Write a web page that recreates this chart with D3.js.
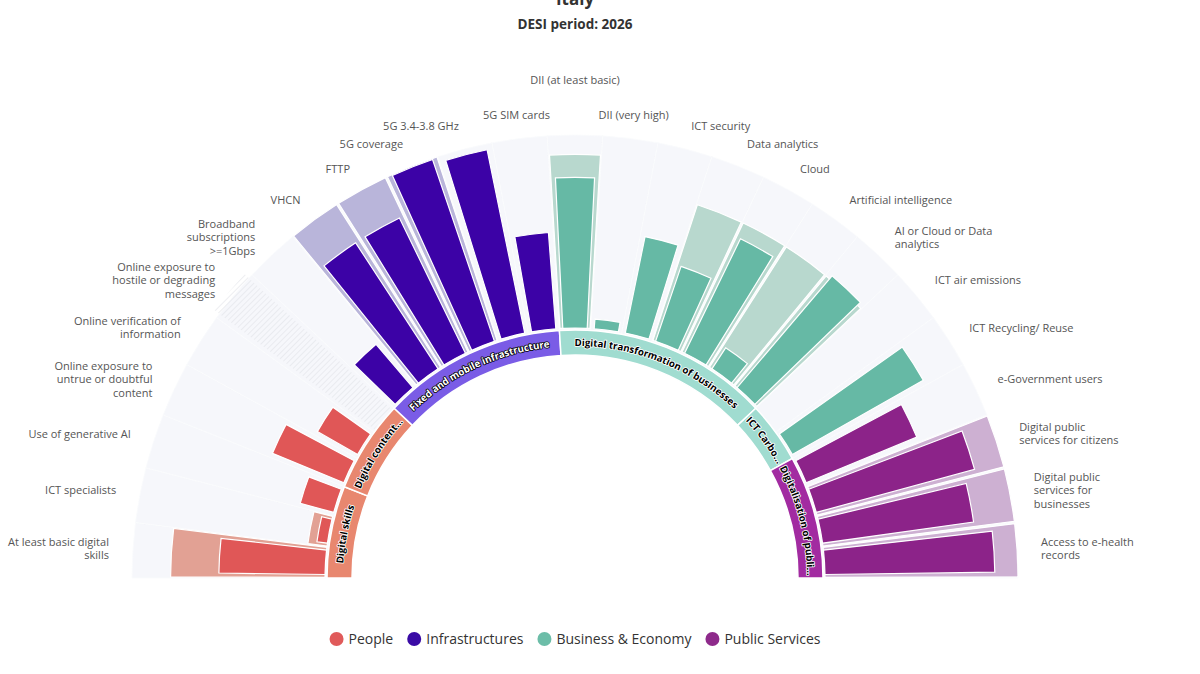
<!DOCTYPE html>
<html>
<head>
<meta charset="utf-8">
<script src="https://cdn.jsdelivr.net/npm/d3@7"></script>
<style>
  body { margin: 0; background: #fff; }
  svg { display: block; font-family: "Open Sans", "Noto Sans", sans-serif; }
</style>
</head>
<body>
<svg id="chart" width="1200" height="674"></svg>
<script>
// indicators, clockwise from the bottom left
const indicators = [
  "At least basic digital\nskills", "ICT specialists", "Use of generative AI",
  "Online exposure to\nuntrue or doubtful\ncontent", "Online verification of\ninformation",
  "Online exposure to\nhostile or degrading\nmessages",
  "Broadband\nsubscriptions\n>=1Gbps", "VHCN", "FTTP", "5G coverage", "5G 3.4-3.8 GHz", "5G SIM cards",
  "DII (at least basic)", "DII (very high)", "ICT security", "Data analytics", "Cloud",
  "Artificial intelligence", "AI or Cloud or Data\nanalytics",
  "ICT air emissions", "ICT Recycling/ Reuse",
  "e-Government users", "Digital public\nservices for citizens",
  "Digital public\nservices for\nbusinesses", "Access to e-health\nrecords"
];
const values = [55, 5.5, 18, 40, 24, null, 29.5, 78, 78, 99.5, 97, 50,
  78, 5, 51, 41, 66, 13, 76, null, 78, 62, 85, 79, 88];
const targets = [80, 10, null, null, null, null, null, 100, 100, 100, null, null,
  90, null, null, 74, 74, 74, 74, null, null, null, 100, 100, 100];
const notAvailable = ["Online exposure to\nhostile or degrading\nmessages"];

const dimensions = ["Digital skills", "Digital content...", "Fixed and mobile infrastructure",
  "Digital transformation of businesses", "ICT Carbo...", "Digitalisation of publi..."];
const dimensionSizes = [3, 3, 6, 7, 2, 4];
const dimensionPillars = ["People", "People", "Infrastructures", "Business & Economy",
  "Business & Economy", "Public Services"];
const pillars = ["People", "Infrastructures", "Business & Economy", "Public Services"];

const colors = {
  "People": { value: "#e05757", target: "#e2a194", ring: "#e8876f", dot: "#e05a5a", text: "#000" },
  "Infrastructures": { value: "#3c02a6", target: "#b9b5da", ring: "#7a5ce6", dot: "#3a0ba5", text: "#fff" },
  "Business & Economy": { value: "#66b9a5", target: "#b8d8ce", ring: "#a0dcd0", dot: "#6cbda8", text: "#000" },
  "Public Services": { value: "#8c2389", target: "#cdb0d2", ring: "#a22ba1", dot: "#8e2a8b", text: "#000" }
};

const cx = 575, cy = 578;
const ringInner = 223, ringOuter = 248, barBase = 250, outer = 443, labelR = 467;
const deg = Math.PI / 180;

// pillar of every indicator, from the dimension spans
const dimStart = d3.cumsum([0, ...dimensionSizes]);
const pillarOf = indicators.map((_, i) => dimensionPillars[d3.bisectRight(dimStart, i) - 1]);

const svg = d3.select("#chart");

const defs = svg.append("defs");
const hatch = defs.append("pattern")
  .attr("id", "hatch")
  .attr("patternUnits", "userSpaceOnUse")
  .attr("width", 4).attr("height", 4)
  .attr("patternTransform", "rotate(45)");
hatch.append("line")
  .attr("x1", 0).attr("y1", 0).attr("x2", 0).attr("y2", 4)
  .attr("stroke", "#e1e2e8").attr("stroke-width", 1.2);

// title
svg.append("text")
  .attr("x", cx).attr("y", 5)
  .attr("text-anchor", "middle")
  .attr("font-size", 17).attr("font-weight", 700).attr("fill", "#333")
  .text("Italy");
svg.append("text")
  .attr("x", cx).attr("y", 29)
  .attr("text-anchor", "middle")
  .attr("font-size", 13.5).attr("font-weight", 700).attr("fill", "#333")
  .text("DESI period: 2026");

const angle = d3.scaleBand()
  .domain(d3.range(indicators.length))
  .range([-Math.PI / 2, Math.PI / 2]);
const radius = d3.scaleLinear().domain([0, 100]).range([barBase, outer]);

const g = svg.append("g").attr("transform", `translate(${cx},${cy})`);

// background bands
const bandArc = d3.arc()
  .innerRadius(ringOuter)
  .outerRadius(outer)
  .startAngle((d) => angle(d))
  .endAngle((d) => angle(d) + angle.bandwidth());
g.append("g")
  .selectAll("path")
  .data(d3.range(indicators.length))
  .join("path")
  .attr("d", bandArc)
  .attr("fill", "#f6f7fb")
  .attr("stroke", "#fafbfd")
  .attr("stroke-width", 0.8);

// not available
g.append("g")
  .selectAll("path")
  .data(d3.range(indicators.length).filter((i) => notAvailable.includes(indicators[i])))
  .join("path")
  .attr("d", d3.arc()
    .innerRadius(barBase)
    .outerRadius(outer + 6)
    .startAngle((d) => angle(d) + 0.6 * deg)
    .endAngle((d) => angle(d) + angle.bandwidth() - 0.6 * deg))
  .attr("fill", "url(#hatch)");

// targets
const targetPad = 0.15 * deg;
g.append("g")
  .selectAll("path")
  .data(d3.range(indicators.length).filter((i) => targets[i] != null))
  .join("path")
  .attr("d", d3.arc()
    .innerRadius(barBase)
    .outerRadius((d) => radius(targets[d]))
    .startAngle((d) => angle(d) + targetPad)
    .endAngle((d) => angle(d) + angle.bandwidth() - targetPad))
  .attr("fill", (d) => colors[pillarOf[d]].target)
  .attr("stroke", "#fff")
  .attr("stroke-width", 1.2);

// values
const valuePad = 0.8 * deg;
g.append("g")
  .selectAll("path")
  .data(d3.range(indicators.length).filter((i) => values[i] != null))
  .join("path")
  .attr("d", d3.arc()
    .innerRadius(barBase)
    .outerRadius((d) => radius(values[d]))
    .startAngle((d) => angle(d) + valuePad)
    .endAngle((d) => angle(d) + angle.bandwidth() - valuePad))
  .attr("fill", (d) => colors[pillarOf[d]].value)
  .attr("stroke", "#fff")
  .attr("stroke-width", 1.2);

// dimension ring
const ringData = dimensions.map((name, k) => ({
  name,
  pillar: dimensionPillars[k],
  a0: angle(dimStart[k]),
  a1: angle(dimStart[k + 1] - 1) + angle.bandwidth()
}));
const ringArc = d3.arc()
  .innerRadius(ringInner)
  .outerRadius(ringOuter)
  .startAngle((d) => d.a0)
  .endAngle((d) => d.a1);
g.append("g")
  .selectAll("path")
  .data(ringData)
  .join("path")
  .attr("d", ringArc)
  .attr("fill", (d) => colors[d.pillar].ring)
  .attr("stroke", "#fff")
  .attr("stroke-width", 1.5);

const rm = (ringInner + ringOuter) / 2;
const pt = (a, r) => [r * Math.sin(a), -r * Math.cos(a)];
g.append("g")
  .selectAll("path")
  .data(ringData)
  .join("path")
  .attr("id", (d, k) => `ring-path-${k}`)
  .attr("fill", "none")
  .attr("d", (d) => {
    const [x0, y0] = pt(d.a0, rm);
    const [x1, y1] = pt(d.a1, rm);
    return `M${x0},${y0}A${rm},${rm} 0 0 1 ${x1},${y1}`;
  });
g.append("g")
  .selectAll("text")
  .data(ringData)
  .join("text")
  .attr("font-size", 9.8)
  .attr("font-weight", 700)
  .attr("dy", "0.35em")
  .attr("fill", (d) => colors[d.pillar].text)
  .attr("stroke", (d) => (colors[d.pillar].text === "#fff" ? "#000" : "#fff"))
  .attr("stroke-width", 1.6)
  .attr("paint-order", "stroke")
  .attr("stroke-linejoin", "round")
  .append("textPath")
  .attr("href", (d, k) => `#ring-path-${k}`)
  .attr("startOffset", "50%")
  .attr("text-anchor", "middle")
  .text((d) => d.name);

// indicator labels
const lineHeight = 13.5;
const labels = g.append("g")
  .selectAll("text")
  .data(indicators.map((name, i) => ({ name, a: angle(i) + angle.bandwidth() / 2 })))
  .join("text")
  .attr("font-size", 11)
  .attr("fill", "#555")
  .attr("text-anchor", (d) => (Math.abs(d.a) < 9 * deg ? "middle" : d.a < 0 ? "end" : "start"))
  .attr("transform", (d) => {
    const r = Math.abs(d.a) < 1e-6 ? labelR + 31 : labelR;
    const [x, y] = pt(d.a, r);
    return `translate(${x},${y})`;
  });
labels.each(function (d) {
  const lines = d.name.split("\n");
  d3.select(this)
    .selectAll("tspan")
    .data(lines)
    .join("tspan")
    .attr("x", 0)
    .attr("y", (l, j) => (j - (lines.length - 1) / 2) * lineHeight)
    .attr("dy", "0.35em")
    .text((l) => l);
});

// legend
const legend = svg.append("g");
let lx = 0;
pillars.forEach((p) => {
  const item = legend.append("g").attr("transform", `translate(${lx},0)`);
  item.append("circle").attr("cx", 7).attr("cy", 0).attr("r", 7).attr("fill", colors[p].dot);
  const t = item.append("text")
    .attr("x", 19).attr("dy", "0.35em")
    .attr("font-size", 14).attr("fill", "#333")
    .text(p);
  lx += 19 + t.node().getComputedTextLength() + 14;
});
legend.attr("transform", `translate(${cx - (lx - 14) / 2},639)`);
</script>
</body>
</html>
